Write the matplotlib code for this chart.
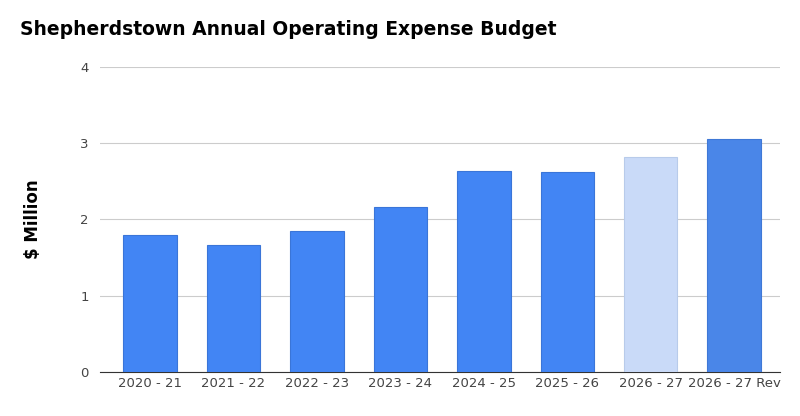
import matplotlib.pyplot as plt

categories = ["2020 - 21", "2021 - 22", "2022 - 23", "2023 - 24", "2024 - 25", "2025 - 26", "2026 - 27", "2026 - 27 Rev"]
values = [1.80, 1.67, 1.85, 2.16, 2.64, 2.62, 2.82, 3.06]
colors = ["#4285f4"] * 6 + ["#c9daf8", "#4a86e8"]
edges = ["#3a75d8"] * 6 + ["#b8cbea", "#3f78d6"]

fig = plt.figure(figsize=(8, 4.16), dpi=100)
ax = fig.add_axes([0.125, 0.106, 0.85, 0.733])
x = range(len(categories))
ax.bar(x, values, width=0.64, color=colors, edgecolor=edges, linewidth=0.8, zorder=3)
ax.set_xlim(-0.6, len(categories) - 0.45)
ax.set_ylim(0, 4)
ax.set_yticks([0, 1, 2, 3, 4])
ax.grid(axis="y", color="#cccccc", linewidth=0.8, zorder=0)
for s in ["top", "right", "left"]:
    ax.spines[s].set_visible(False)
ax.spines["bottom"].set_color("#333333")
ax.tick_params(axis="both", length=0, labelsize=9.5, colors="#444444")
ax.tick_params(axis="y", pad=8)
ax.set_xticks(list(x))
ax.set_xticklabels(categories)
ax.set_ylabel("$ Million", fontsize=12, fontweight="bold", color="#000000", labelpad=28)
fig.text(0.025, 0.915, "Shepherdstown Annual Operating Expense Budget", fontsize=13.5, fontweight="bold", ha="left")
fig.savefig("out.png", dpi=100)
